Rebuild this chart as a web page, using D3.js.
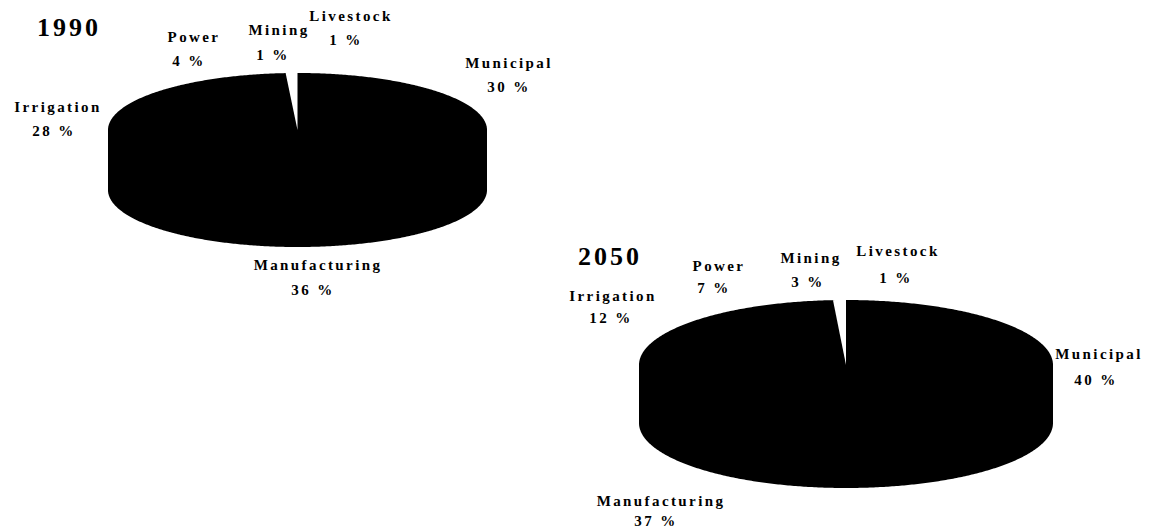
<!DOCTYPE html>
<html><head><meta charset="utf-8">
<script src="https://cdn.jsdelivr.net/npm/d3@7"></script>
<style>
html,body{margin:0;padding:0;background:#fff;}
svg text{font-family:"Liberation Serif","DejaVu Serif",serif;font-weight:bold;fill:#000;}
</style></head>
<body><svg id="c" width="1154" height="529"></svg>
<script>
// ---- data ----
const categories = ["Municipal","Manufacturing","Irrigation","Power","Mining","Livestock"];
const values1990 = [30,36,28,4,1,1];
const values2050 = [40,37,12,7,3,1];
const years = ["1990","2050"];
const sliceColors = ["#000","#000","#000","#000","#000","#fff"];

// ---- layout (not data) ----
const pies = [
  {year:years[0], values:values1990, cx:297.5, cy:130, rx:189.5, ry:57, depth:60,
   title:[37,36],
   labels:{Municipal:[508,68,92],Manufacturing:[317,270,295],Irrigation:[57,112,136],
           Power:[193,42,66],Mining:[278,35,60],Livestock:[350,21,45]},
   pctX:{Municipal:508,Manufacturing:312,Irrigation:53,Power:188,Mining:272,Livestock:345}},
  {year:years[1], values:values2050, cx:846, cy:365, rx:207, ry:65, depth:58,
   title:[578,265],
   labels:{Municipal:[1098,359,385],Manufacturing:[660,506,526],Irrigation:[612,301,323],
           Power:[718,271,293],Mining:[810,263,287],Livestock:[897,256,283]},
   pctX:{Municipal:1095,Manufacturing:655,Irrigation:610,Power:713,Mining:807,Livestock:895}}
];

const svg = d3.select("#c");
const pieGen = d3.pie().sort(null).value(d=>d.v);

function pt(p,a,dy){ return [p.cx + p.rx*Math.sin(a), p.cy - p.ry*Math.cos(a) + (dy||0)]; }
function arcPts(p,a0,a1,dy){
  const n = Math.max(2, Math.ceil((a1-a0)/0.01));
  return d3.range(n+1).map(i=>pt(p,a0+(a1-a0)*i/n,dy));
}

pies.forEach(p=>{
  const data = categories.map((c,i)=>({c, v:p.values[i], col:sliceColors[i]}));
  const arcs = pieGen(data);
  const g = svg.append("g");
  // single outline of the whole 3D body (no internal seams)
  const body = arcPts(p,-Math.PI/2,Math.PI/2,0).concat(arcPts(p,Math.PI/2,3*Math.PI/2,p.depth));
  g.append("path").attr("d", d3.line()(body)+"Z").attr("fill","#000");
  // side walls of light slices only (front half)
  arcs.forEach(a=>{
    if(a.data.col==="#000") return;
    const s = Math.max(a.startAngle, Math.PI/2), e = Math.min(a.endAngle, 3*Math.PI/2);
    if(e<=s) return;
    const top = arcPts(p,s,e,0), bot = arcPts(p,s,e,p.depth).reverse();
    g.append("path").attr("d", d3.line()(top.concat(bot))+"Z").attr("fill","#ddd");
  });
  // top faces of slices
  arcs.forEach(a=>{
    if(a.data.col==="#000") return;
    const pts = [[p.cx,p.cy]].concat(arcPts(p,a.startAngle,a.endAngle,0));
    g.append("path").attr("d", d3.line()(pts)+"Z").attr("fill", a.data.col);
  });
  // title
  svg.append("text").attr("x",p.title[0]).attr("y",p.title[1])
    .attr("font-size",26).attr("letter-spacing",3).text(p.year);
  // labels
  arcs.forEach(a=>{
    const L = p.labels[a.data.c];
    svg.append("text").attr("x",L[0]+1).attr("y",L[1]).attr("text-anchor","middle")
      .attr("font-size",15).attr("letter-spacing",2.4).text(a.data.c);
    svg.append("text").attr("x",p.pctX[a.data.c]+1).attr("y",L[2]).attr("text-anchor","middle")
      .attr("font-size",15).attr("letter-spacing",2.4).text(a.data.v+" %");
  });
});
</script></body></html>
